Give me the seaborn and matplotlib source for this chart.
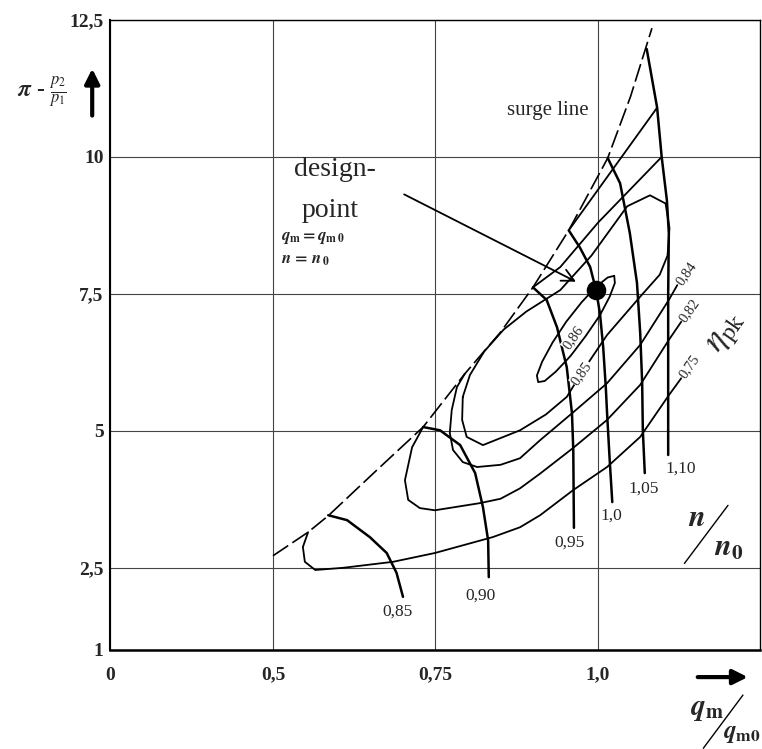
import numpy as np
import pandas as pd
import matplotlib
matplotlib.use("Agg")
import matplotlib.pyplot as plt
import seaborn as sns

# ---------------- data ----------------
# surge line
surge_q  = [0.50, 0.554, 0.585, 0.663, 0.731, 0.795, 0.85, 0.90, 0.955, 1.015, 1.05, 1.083]
surge_pi = [2.72, 3.15, 3.45, 4.32, 5.07, 6.04, 6.80, 7.62, 8.66, 9.98, 11.10, 12.35]

# constant speed lines n/n0
n085_q  = [0.585, 0.614, 0.649, 0.675, 0.690, 0.700]
n085_pi = [3.46, 3.37, 3.06, 2.77, 2.41, 1.97]
n090_q  = [0.731, 0.757, 0.788, 0.811, 0.823, 0.831, 0.832]
n090_pi = [5.07, 5.01, 4.74, 4.23, 3.61, 3.00, 2.33]
n095_q  = [0.900, 0.921, 0.937, 0.952, 0.960, 0.962, 0.963]
n095_pi = [7.62, 7.39, 6.89, 6.16, 5.32, 4.65, 3.23]
n100_q  = [0.955, 0.972, 0.988, 0.997, 1.003, 1.008, 1.012, 1.014, 1.018, 1.022]
n100_pi = [8.66, 8.35, 7.99, 7.57, 7.15, 6.53, 5.80, 5.32, 4.47, 3.70]
n105_q  = [1.015, 1.034, 1.049, 1.060, 1.065, 1.068, 1.069, 1.072]
n105_pi = [9.98, 9.52, 8.61, 7.70, 6.78, 5.87, 5.01, 4.23]
n110_q  = [1.075, 1.091, 1.098, 1.106, 1.109, 1.108, 1.108, 1.108]
n110_pi = [11.97, 10.90, 10.00, 9.21, 8.61, 7.51, 5.74, 4.56]
speed_labels = ["0,85", "0,90", "0,95", "1,0", "1,05", "1,10"]

# efficiency contours eta_pk
eta086_q  = [1.025, 1.026, 1.018, 1.003, 0.981, 0.958, 0.935, 0.918, 0.908, 0.906,
             0.914, 0.930, 0.951, 0.975, 0.997, 1.015, 1.025]
eta086_pi = [7.83, 7.70, 7.45, 7.11, 6.73, 6.37, 6.08, 5.91, 5.89, 6.01,
             6.26, 6.61, 6.99, 7.35, 7.63, 7.80, 7.83]
eta085_q  = [0.792, 0.803, 0.825, 0.855, 0.890, 0.942, 0.990, 1.045, 1.080, 1.104, 1.110, 1.107,
             1.095, 1.065, 1.014, 0.977, 0.952, 0.920, 0.880, 0.823, 0.798, 0.791, 0.792]
eta085_pi = [5.62, 6.02, 6.45, 6.85, 7.18, 7.57, 8.20, 9.10, 9.30, 9.15, 8.70, 8.20,
             7.85, 7.45, 6.75, 6.10, 5.62, 5.30, 5.01, 4.74, 4.89, 5.20, 5.62]
eta084_q  = [0.795, 0.783, 0.775, 0.772, 0.777, 0.792, 0.814, 0.850, 0.880, 0.911, 0.962, 1.014, 1.065, 1.109, 1.122]
eta084_pi = [6.04, 5.80, 5.38, 4.96, 4.65, 4.43, 4.34, 4.38, 4.50, 4.83, 5.34, 5.87, 6.57, 7.39, 7.66]
eta084_up_q  = [0.900, 0.942, 1.000, 1.098]
eta084_up_pi = [7.62, 7.99, 8.80, 10.00]
eta082_q  = [0.731, 0.714, 0.703, 0.708, 0.726, 0.749, 0.818, 0.850, 0.880, 0.911, 0.962, 1.014, 1.065, 1.109, 1.128]
eta082_pi = [5.07, 4.70, 4.10, 3.74, 3.59, 3.55, 3.68, 3.76, 3.95, 4.22, 4.69, 5.20, 5.84, 6.66, 6.99]
eta082_up_q  = [0.955, 1.020, 1.091]
eta082_up_pi = [8.66, 9.73, 10.90]
eta075_q  = [0.554, 0.546, 0.549, 0.565, 0.608, 0.685, 0.749, 0.838, 0.880, 0.911, 0.962, 1.014, 1.065, 1.109, 1.128]
eta075_pi = [3.15, 2.88, 2.61, 2.46, 2.50, 2.61, 2.77, 3.06, 3.24, 3.46, 3.92, 4.34, 4.89, 5.65, 5.96]

design_q, design_pi = [0.997], [7.57]

x_ticks = [0.25, 0.5, 0.75, 1.0]
x_ticklabels = ["0", "0,5", "0,75", "1,0"]
y_ticks = [1, 2.5, 5, 7.5, 10, 12.5]
y_ticklabels = ["1", "2,5", "5", "7,5", "10", "12,5"]

# ---------------- build tables ----------------
speed_sets = [(n085_q, n085_pi), (n090_q, n090_pi), (n095_q, n095_pi),
              (n100_q, n100_pi), (n105_q, n105_pi), (n110_q, n110_pi)]
df_speed = pd.concat([pd.DataFrame({"q": q, "pi": p, "curve": lab})
                      for (q, p), lab in zip(speed_sets, speed_labels)], ignore_index=True)
eta_sets = {"0,86": (eta086_q, eta086_pi), "0,85": (eta085_q, eta085_pi),
            "0,84": (eta084_q, eta084_pi), "0,84u": (eta084_up_q, eta084_up_pi),
            "0,82": (eta082_q, eta082_pi), "0,82u": (eta082_up_q, eta082_up_pi),
            "0,75": (eta075_q, eta075_pi)}
df_eta = pd.concat([pd.DataFrame({"q": q, "pi": p, "curve": k})
                    for k, (q, p) in eta_sets.items()], ignore_index=True)

# ---------------- style ----------------
sns.set_theme(style="white")
plt.rcParams['font.family'] = ['Liberation Serif', 'DejaVu Serif']
plt.rcParams['mathtext.fontset'] = 'stix'

fig = plt.figure(figsize=(7.62, 7.49), dpi=100)
ax = fig.add_axes([0.145, 0.1322, 0.853, 0.8411])

sns.lineplot(data=df_eta, x="q", y="pi", units="curve", estimator=None, sort=False,
             color="black", lw=1.3, ax=ax, legend=False)
sns.lineplot(data=df_speed, x="q", y="pi", units="curve", estimator=None, sort=False,
             color="black", lw=1.8, ax=ax, legend=False)
sns.lineplot(x=surge_q, y=surge_pi, sort=False, color="black", lw=1.2, ax=ax)
ax.lines[-1].set_dashes([11, 3])
sns.scatterplot(x=design_q, y=design_pi, s=170, color="black", edgecolor="black", ax=ax, zorder=5)

ax.set_xlim(0.25, 1.25)
ax.set_ylim(1, 12.5)
ax.set_xticks(x_ticks)
ax.set_xticklabels(x_ticklabels, fontsize=14, fontweight="bold")
ax.set_yticks(y_ticks)
ax.set_yticklabels(y_ticklabels, fontsize=14, fontweight="bold")
ax.tick_params(axis="x", pad=12, length=0)
ax.tick_params(axis="y", pad=5, length=0)
ax.set_xlabel("")
ax.set_ylabel("")
ax.grid(True, color="#444444", lw=0.8)
for s in ax.spines.values():
    s.set_color("black")
    s.set_linewidth(1.0)
ax.spines["bottom"].set_linewidth(1.8)
ax.spines["left"].set_linewidth(1.5)

# speed line labels
offs = [(-4, -11), (-6, -13), (-3, -11), (-1, -9.5), (-1, -11), (9, -9.5)]
for (q, p), lab, o in zip(speed_sets, speed_labels, offs):
    ax.annotate(lab, (q[-1], p[-1]), xytext=o, textcoords="offset points",
                ha="center", va="center", fontsize=12.5)

# efficiency labels at right ends
for key, o in [("0,84", (1, 1)), ("0,82", (1, 1)), ("0,75", (1, 1))]:
    q, p = eta_sets[key]
    ax.annotate(key, (q[-1], p[-1]), xytext=o, textcoords="offset points",
                ha="left", va="center", rotation=55, rotation_mode="anchor", fontsize=10.5)
ax.text(0.962, 6.70, "0,86", rotation=55, ha="center", va="center", fontsize=10.5,
        bbox=dict(facecolor="white", edgecolor="none", pad=0.5), zorder=4)
ax.text(0.975, 6.05, "0,85", rotation=55, ha="center", va="center", fontsize=10.5,
        bbox=dict(facecolor="white", edgecolor="none", pad=0.5), zorder=4)
ax.text(1.198, 6.78, r"$\eta_{\mathrm{pk}}$", rotation=55, ha="center", va="center", fontsize=25)

# texts
ax.text(0.923, 10.85, "surge line", ha="center", va="center", fontsize=15)
ax.text(0.595, 9.77, "design-", ha="center", va="center", fontsize=20)
ax.text(0.588, 9.02, "point", ha="center", va="center", fontsize=20)
ax.text(0.512, 8.52, r"$\mathbfit{q}_{\mathbf{m}}\mathbf{=}\mathbfit{q}_{\mathbf{m\,0}}$",
        ha="left", va="center", fontsize=12)
ax.text(0.512, 8.12, r"$\mathbfit{n}\mathbf{\,=\,}\mathbfit{n}_{\,\mathbf{0}}$",
        ha="left", va="center", fontsize=12)
ax.annotate("", xy=(0.970, 7.70), xytext=(0.698, 9.34),
            arrowprops=dict(arrowstyle="->", color="black", lw=1.3, mutation_scale=22))

# n/n0 label
ax.text(1.152, 3.40, r"$\mathbfit{n}$", ha="center", va="center", fontsize=22)
ax.plot([1.133, 1.200], [2.58, 3.64], color="black", lw=1.0)
ax.text(1.201, 2.85, r"$\mathbfit{n}_{\mathbf{0}}$", ha="center", va="center", fontsize=22)

# y-axis label and arrow (figure coords)
fig.text(0.055, 0.877, r"$\mathbfit{\pi}$ - $\frac{\mathit{p}_2}{\mathit{p}_1}$", ha="center", va="center",
         fontsize=17, fontweight="bold")
fig.patches.append(matplotlib.patches.FancyArrowPatch((0.121, 0.842), (0.121, 0.912),
    transform=fig.transFigure, arrowstyle="-|>", mutation_scale=22, lw=3.0, color="black"))
# x-axis arrow and label
fig.patches.append(matplotlib.patches.FancyArrowPatch((0.912, 0.096), (0.985, 0.096),
    transform=fig.transFigure, arrowstyle="-|>", mutation_scale=22, lw=3.0, color="black"))
fig.text(0.927, 0.052, r"$\mathbfit{q}_{\mathbf{m}}$", ha="center", va="center", fontsize=21)
fig.add_artist(matplotlib.lines.Line2D([0.923, 0.975], [0.001, 0.072], transform=fig.transFigure,
                                       color="black", lw=1.0))
fig.text(0.974, 0.020, r"$\mathbfit{q}_{\mathbf{m0}}$", ha="center", va="center", fontsize=18)

fig.savefig("out.png", dpi=100)
